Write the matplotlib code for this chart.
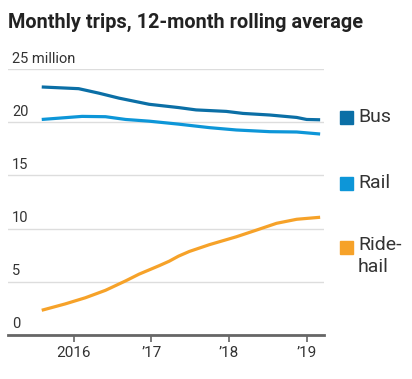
import numpy as np
import matplotlib.pyplot as plt
import matplotlib.transforms as mtransforms

plt.rcParams['font.family'] = ['Roboto', 'DejaVu Sans']

# decimal years and values (millions)
bus_t = [2015.585, 2016.061, 2016.32, 2016.58, 2016.969, 2017.349, 2017.575, 2017.964, 2018.179, 2018.525, 2018.872, 2019.0, 2019.174]
bus_v = [23.33, 23.17, 22.75, 22.28, 21.7, 21.39, 21.17, 21.03, 20.84, 20.69, 20.46, 20.27, 20.24]

rail_t = [2015.585, 2016.104, 2016.407, 2016.667, 2016.969, 2017.349, 2017.747, 2018.093, 2018.525, 2018.872, 2019.174]
rail_v = [20.27, 20.56, 20.53, 20.27, 20.11, 19.83, 19.5, 19.28, 19.12, 19.09, 18.9]

ride_t = [2015.585, 2015.888, 2016.148, 2016.407, 2016.667, 2016.839, 2017.099, 2017.228, 2017.349, 2017.488,
          2017.747, 2018.093, 2018.353, 2018.612, 2018.872, 2019.174]
ride_v = [2.3, 2.9, 3.48, 4.18, 5.07, 5.7, 6.5, 6.92, 7.4, 7.84, 8.48, 9.22, 9.85, 10.49, 10.87, 11.06]

yticks = [0, 5, 10, 15, 20, 25]
ytick_labels = ['0', '5', '10', '15', '20', '25 million']
xticks = [2016, 2017, 2018, 2019]
xtick_labels = ['2016', '\u201917', '\u201918', '\u201919']

series = ['Bus', 'Rail', 'Ride-\nhail']
colors = ['#0b6fa6', '#0d96d8', '#f6a229']

fig = plt.figure(figsize=(4.12, 3.79), dpi=100)
ax = fig.add_axes([0.0194, 0.1169, 0.7663, 0.7004])

ax.plot(bus_t, bus_v, color=colors[0], lw=2.3, solid_capstyle='butt')
ax.plot(rail_t, rail_v, color=colors[1], lw=2.3, solid_capstyle='butt')
ax.plot(ride_t, ride_v, color=colors[2], lw=2.3, solid_capstyle='butt')

ax.set_xlim(2015.15, 2019.22)
ax.set_ylim(0, 25)
for s in ['top', 'right', 'left']:
    ax.spines[s].set_visible(False)
ax.spines['bottom'].set_color('#666666')
ax.spines['bottom'].set_linewidth(2)
ax.set_yticks(yticks)
ax.set_yticklabels([])
ax.tick_params(axis='y', length=0)
ax.grid(axis='y', color='#dddddd', lw=1)
ax.set_axisbelow(True)
ax.set_xticks(xticks)
ax.set_xticklabels(xtick_labels, fontsize=11, color='#333333')
ax.tick_params(axis='x', length=5, width=1.2, color='#666666', pad=3)

trans = mtransforms.blended_transform_factory(ax.transAxes, ax.transData)
for v, lab in zip(yticks, ytick_labels):
    ax.text(0.013, v + 0.35, lab, transform=trans, fontsize=10.5, color='#333333',
            ha='left', va='bottom')

fig.text(0.02, 0.94, 'Monthly trips, 12-month rolling average', fontsize=14.3,
         fontweight='bold', color='#222222', ha='left', va='center')

leg_y = [117, 183, 247]
for name, c, y in zip(series, colors, leg_y):
    fy = 1 - y / 379
    fig.patches.append(plt.Rectangle((340 / 412, fy - 7 / 379), 13 / 412, 13 / 379,
                                     transform=fig.transFigure, color=c))
    fig.text(358 / 412, fy, name, fontsize=14, color='#333333', ha='left', va='top' if '\n' in name else 'center',
             linespacing=1.25)

fig.texts[-1].set_position((358 / 412, 1 - 236 / 379))
fig.savefig('out.png', dpi=100)
